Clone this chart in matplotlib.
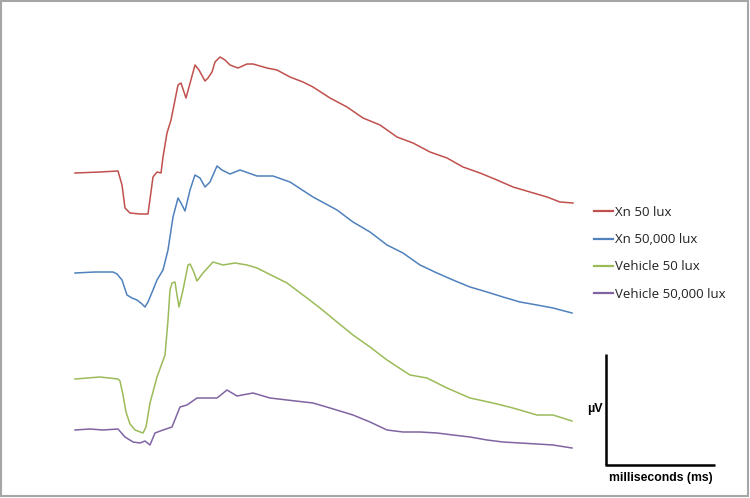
"""
ERG traces: Xn vs vehicle at two light intensities
"""

import matplotlib
matplotlib.use('Agg')
import matplotlib.pyplot as plt
from matplotlib.lines import Line2D
from matplotlib.patches import Rectangle

# time (ms) and amplitude (uV, relative to each trace's pre-flash baseline)
labels = ['Xn 50 lux', 'Xn 50,000 lux', 'Vehicle 50 lux', 'Vehicle 50,000 lux']
colors = ['#c0504d', '#4f81bd', '#9bbb59', '#8064a2']
offsets = [0, -101, -207, -258]   # vertical stacking of traces

t_xn50 = [0, 12.5, 21.5, 23.5, 25, 27.5, 32.5, 36.5, 39, 41,
          43, 44, 46, 48, 51.5, 53, 55.5, 60, 62, 65,
          66.5, 68.5, 70, 72.5, 75, 77.5, 81.5, 86, 89, 96,
          101, 107.5, 114, 119, 127.5, 136, 144, 152.5, 161, 169,
          177.5, 186, 194, 202.5, 211, 219, 227.5, 236, 242.5, 249]
v_xn50 = [-1, 0, 1, -13, -36, -41, -42, -42, -5, 0,
          -1, 15, 39, 52, 87, 89, 74, 107, 102, 91,
          94, 100, 110, 115, 112, 107, 104, 108, 108, 104,
          102, 95, 90, 85, 74, 65, 54, 47, 35, 29,
          20, 14, 5, -1, -8, -15, -20, -25, -30, -31]

t_xn50k = [0, 10, 19, 21, 23.5, 26, 28.5, 31, 33.5, 35,
           36.5, 39, 41, 44, 46.5, 49, 51.5, 53, 55, 57.5,
           60, 62.5, 65, 67.5, 71, 73.5, 77.5, 82.5, 91, 99,
           107.5, 119, 131, 139, 147.5, 156, 164, 172.5, 181, 189,
           197.5, 206, 214, 222.5, 231, 239, 248.5]
v_xn50k = [0, 1, 1, -1, -7, -22, -25, -27, -31, -34,
           -29, -17, -7, 3, 23, 56, 75, 70, 62, 83,
           98, 95, 86, 91, 107, 103, 99, 103, 97, 97,
           91, 76, 63, 51, 41, 28, 20, 8, 0, -7,
           -14, -19, -24, -29, -32, -35, -40]

t_veh50 = [0, 12.5, 21.5, 22.5, 24, 25.5, 27.5, 30, 34, 35.5,
           37.5, 41, 45, 46.5, 47.5, 48.5, 50, 51, 52, 54,
           56.5, 57.5, 59, 61, 64, 69, 74, 80, 86, 91,
           106, 116, 122.5, 131, 139, 147.5, 156, 167.5, 176, 186,
           197.5, 209, 219, 231, 239, 248.5]
v_veh50 = [0, 2, 0, -2, -16, -33, -45, -51, -54, -48,
           -24, 2, 24, 59, 89, 96, 97, 84, 72, 89,
           114, 115, 109, 98, 106, 117, 114, 116, 114, 111,
           96, 81, 71, 57, 44, 32, 19, 4, 1, -9,
           -19, -24, -29, -36, -36, -42]

t_veh50k = [0, 7.5, 14, 21.5, 25, 29, 32.5, 35, 37.5, 40,
            44, 48.5, 52.5, 56, 61, 66, 71, 76, 81, 89,
            97.5, 106, 119, 127.5, 139, 147.5, 156, 164, 172.5, 181,
            189, 197.5, 206, 214, 222.5, 231, 239, 248.5]
v_veh50k = [0, 1, 0, 1, -7, -12, -13, -11, -15, -3,
            0, 3, 23, 25, 32, 32, 32, 40, 34, 37,
            32, 30, 27, 22, 15, 8, 0, -2, -2, -3,
            -5, -7, -10, -12, -13, -14, -15, -18]

times = [t_xn50, t_xn50k, t_veh50, t_veh50k]
values = [v_xn50, v_xn50k, v_veh50, v_veh50k]

fig = plt.figure(figsize=(7.5, 4.98), dpi=100)
ax = fig.add_axes([0, 0, 1, 1])

for t, v, off, c, lab in zip(times, values, offsets, colors, labels):
    ax.plot(t, [y + off for y in v], color=c, lw=1.1, label=lab)

ax.set_xlim(-37.5, 337.5)
ax.set_ylim(-326, 172)
ax.axis('off')

leg = ax.legend(loc='upper left', bbox_to_anchor=(0.785, 0.597),
                frameon=False, handlelength=1.45, handletextpad=0.15,
                labelspacing=1.08, borderaxespad=0,
                prop={'family': 'Open Sans', 'size': 9.5})
for txt in leg.get_texts():
    txt.set_color('#222222')
for h in leg.legend_handles:
    h.set_linewidth(1.6)

# scale bar (figure pixel positions)
W, H = 750.0, 498.0
def fx(px): return px / W
def fy(py): return 1 - py / H
fig.add_artist(Line2D([fx(606), fx(606)], [fy(354), fy(465)], color='black',
                      lw=1.8, transform=fig.transFigure, solid_capstyle='butt'))
fig.add_artist(Line2D([fx(605), fx(715)], [fy(465), fy(465)], color='black',
                      lw=1.8, transform=fig.transFigure, solid_capstyle='butt'))
fig.text(fx(603), fy(409), 'µV', ha='right', va='center', fontsize=9,
         fontweight='bold', family='Liberation Sans')
fig.text(fx(661), fy(478), 'milliseconds (ms)', ha='center', va='center',
         fontsize=8.8, fontweight='bold', family='Liberation Sans')

# frame around figure
fig.add_artist(Rectangle((fx(1), fy(496)), fx(747), 495 / H,
                         transform=fig.transFigure, fill=False,
                         edgecolor='#a6a6a6', lw=1.5))

fig.savefig('out.png', dpi=100)
